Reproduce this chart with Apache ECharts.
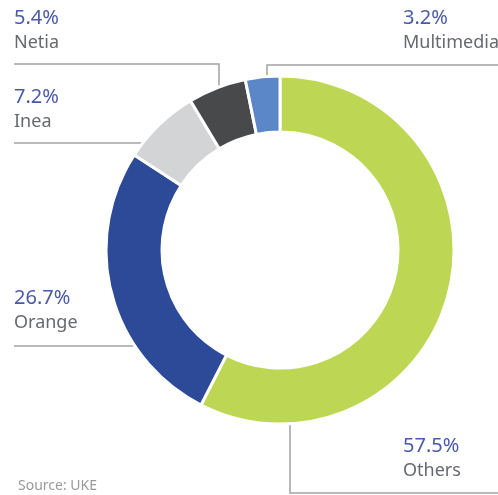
<!DOCTYPE html>
<html>
<head>
<meta charset="utf-8">
<script src="https://cdn.jsdelivr.net/npm/echarts@6/dist/echarts.min.js"></script>
<style>html,body{margin:0;padding:0;background:#fff;}#c{width:498px;height:495px;}</style>
</head>
<body>
<div id="c"></div>
<script>
const names = ['Others', 'Orange', 'Inea', 'Netia', 'Multimedia'];
const shares = [57.5, 26.7, 7.2, 5.4, 3.2];
const colors = ['#bdd755', '#2c4a98', '#d3d4d6', '#48494b', '#5b87c8'];
const sourceText = 'Source: UKE';

// label layout (top-left of each label block) and leader lines
const labelPos = [[403, 434], [14, 286], [14, 85], [14, 6], [403, 6]];
const leaders = [
  [[290, 424], [290, 493], [498, 493]],
  [[135, 346], [14, 346], [14, 346]],
  [[143, 143], [14, 143], [14, 143]],
  [[219, 88], [219, 64], [14, 64]],
  [[267, 79], [267, 65], [498, 65]]
];

const chart = echarts.init(document.getElementById('c'), null, {renderer: 'canvas'});
chart.setOption({
  animation: false,
  backgroundColor: '#fff',
  title: {
    text: sourceText,
    left: 13, top: 474,
    textStyle: {fontFamily: 'Noto Sans', fontSize: 14, fontWeight: 'normal', color: '#9a9a9a'}
  },
  series: [{
    type: 'pie',
    silent: true,
    center: [280, 250],
    radius: [118, 174],
    startAngle: 90,
    clockwise: true,
    avoidLabelOverlap: false,
    itemStyle: {borderColor: '#fff', borderWidth: 3},
    label: {
      show: true,
      position: 'outside',
      fontFamily: 'Noto Sans',
      formatter: p => '{p|' + shares[p.dataIndex].toFixed(1) + '%}\n{n|' + p.name + '}',
      rich: {
        p: {fontFamily: 'Noto Sans', fontSize: 20, lineHeight: 25, color: '#4a5aab'},
        n: {fontFamily: 'Noto Sans', fontSize: 18, lineHeight: 24, color: '#666a6e'}
      }
    },
    labelLine: {show: true, lineStyle: {color: '#a3a3a3', width: 1.5}},
    labelLayout: p => ({
      x: labelPos[p.dataIndex][0],
      y: labelPos[p.dataIndex][1],
      align: 'left',
      verticalAlign: 'top',
      labelLinePoints: leaders[p.dataIndex]
    }),
    data: names.map((n, i) => ({name: n, value: shares[i], itemStyle: {color: colors[i]}}))
  }]
});
</script>
</body>
</html>
